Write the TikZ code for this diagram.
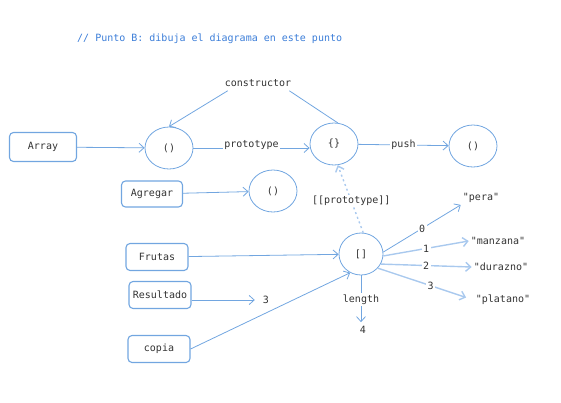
\documentclass[tikz,border=0pt]{standalone}
\usepackage{fontspec}
\setmonofont{DejaVu Sans Mono}
\usetikzlibrary{shapes.geometric,arrows.meta}

\definecolor{linkblue}{HTML}{72A6E0}
\definecolor{paleblue}{HTML}{A9C9EE}
\definecolor{notecol}{HTML}{3B7DD8}
\definecolor{inkgray}{HTML}{333333}

\tikzset{
    objbox/.style={draw=linkblue, line width=1.1pt, rounded corners=4pt, minimum width=62pt, minimum height=27pt, inner sep=2pt, text=inkgray, font=\ttfamily},
    objcirc/.style={ellipse, draw=linkblue, line width=0.8pt, minimum width=48pt, minimum height=42pt, inner sep=0pt, text=inkgray, font=\ttfamily},
    txt/.style={text=inkgray, font=\ttfamily, inner sep=2pt},
    tag/.style={txt, fill=white, inner sep=1.5pt},
    link/.style={draw=linkblue, line width=0.8pt, -{Straight Barb[length=5pt,width=9pt]}},
    pale/.style={link, draw=paleblue, line width=1.4pt},
}

\begin{document}
\begin{tikzpicture}[x=1pt, y=-1pt]
    \useasboundingbox (0,0) rectangle (561,402);

    % Comment line
    \node[txt, anchor=west, text=notecol] (note) at (75,39) {// Punto B: dibuja el diagrama en este punto};

    % Constructor functions and prototype objects
    \node[objbox, minimum width=67pt, minimum height=29pt] (array) at (43,147) {Array};
    \node[objcirc] (c1) at (169,148) {()};
    \node[objcirc] (c2) at (334,144) {\{\}};
    \node[objcirc] (c3) at (473,146) {()};
    \node[txt] (ctor) at (258,83) {constructor};
    \draw[link] (array) -- (c1);
    \draw[link] (c1.east) -- node[tag, yshift=3pt] {prototype} (c1.east -| c2.west);
    \draw[link] (c2) -- node[tag] {push} (c3);
    \draw[link] ([xshift=5pt,yshift=-2pt]ctor.south west) -- (c1.north);
    \draw[draw=linkblue, line width=0.8pt] (c2.80) -- ([xshift=-4pt,yshift=-2pt]ctor.south east);

    % Agregar
    \node[objbox, minimum width=61pt, minimum height=26pt] (agregar) at (152,194) {Agregar};
    \node[objcirc] (c4) at (273,191) {()};
    \draw[link] (agregar) -- (c4);

    % The array instance
    \node[objcirc, minimum width=44pt] (c5) at (361,254) {[]};
    \draw[pale, dash pattern=on 2pt off 3pt] (c5.84) -- node[tag, pos=0.47] {[[prototype]]} (c2.-80);

    \node[objbox] (frutas) at (157,257) {Frutas};
    \node[objbox] (resultado) at (160,295) {Resultado};
    \node[objbox] (copia) at (159,349) {copia};
    \node[txt] (three) at (266,300) {3};
    \node[txt] (four) at (363,330) {4};
    \draw[link] (frutas) -- (c5);
    \draw[link, shorten >=6pt] (resultado.east |- three) -- (three);
    \draw[link] (copia.east) -- (c5.240);
    \draw[link, shorten >=2pt] (c5.south) -- node[tag] {length} (c5.south |- four.north);

    % Elements of the array
    \node[txt] (pera) at (481,198) {"pera"};
    \node[txt] (manzana) at (498,241) {"manzana"};
    \node[txt] (durazno) at (501,267) {"durazno"};
    \node[txt] (platano) at (503,300) {"platano"};
    \draw[link] (c5.5) -- node[tag] {0} (pera.south west);
    \draw[pale] (c5.-5) -- node[tag] {1} (manzana.west);
    \draw[pale] (c5.-27) -- node[tag] {2} (durazno.west);
    \draw[pale, shorten >=8pt] (c5.-40) -- node[tag, pos=0.55] {3} (platano.west);

\end{tikzpicture}
\end{document}
